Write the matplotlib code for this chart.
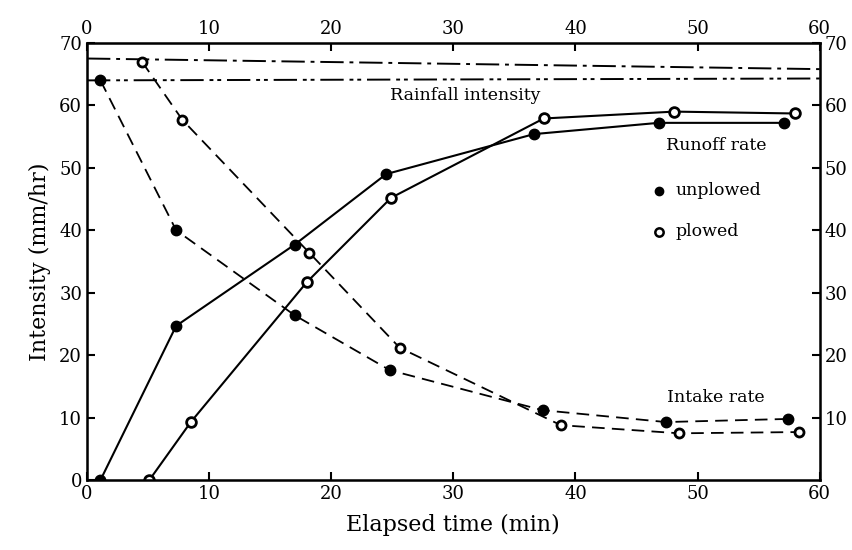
import matplotlib.pyplot as plt

# runoff rate (solid lines)
runoff_unplowed_t = [1.1, 7.3, 17.0, 24.5, 36.6, 46.8, 57.1]
runoff_unplowed = [0.0, 24.7, 37.7, 49.0, 55.4, 57.2, 57.2]
runoff_plowed_t = [5.1, 8.5, 18.0, 24.9, 37.4, 48.1, 58.0]
runoff_plowed = [0.0, 9.3, 31.7, 45.2, 57.9, 59.0, 58.7]

# intake rate (dashed lines)
intake_unplowed_t = [1.1, 7.3, 17.0, 24.8, 37.3, 47.4, 57.4]
intake_unplowed = [64.0, 40.0, 26.4, 17.6, 11.2, 9.3, 9.8]
intake_plowed_t = [4.5, 7.8, 18.2, 25.6, 38.8, 48.5, 58.3]
intake_plowed = [67.0, 57.7, 36.4, 21.2, 8.8, 7.5, 7.7]

# rainfall intensity
rain_t = [0, 60]
rain_plowed = [67.5, 65.8]
rain_unplowed = [64.0, 64.3]

x_ticks = [0, 10, 20, 30, 40, 50, 60]
y_ticks = [0, 10, 20, 30, 40, 50, 60, 70]
y_ticks_right = [10, 20, 30, 40, 50, 60, 70]

plt.rcParams['font.family'] = ['DejaVu Serif']

fig = plt.figure(figsize=(8.53, 5.5), dpi=100)
ax = fig.add_axes([0.102, 0.127, 0.859, 0.795])

ax.plot(rain_t, rain_plowed, color='black', lw=1.4, dashes=(12, 3, 2, 3))
ax.plot(rain_t, rain_unplowed, color='black', lw=1.4, dashes=(12, 3, 2, 2, 2, 3))

ax.plot(runoff_unplowed_t, runoff_unplowed, color='black', lw=1.5,
        marker='o', ms=7.5, mfc='black', mec='black')
ax.plot(runoff_plowed_t, runoff_plowed, color='black', lw=1.5,
        marker='o', ms=7, mfc='white', mec='black', mew=2)
ax.plot(intake_unplowed_t, intake_unplowed, color='black', lw=1.3,
        dashes=(7, 4), marker='o', ms=7.5, mfc='black', mec='black')
ax.plot(intake_plowed_t, intake_plowed, color='black', lw=1.3,
        dashes=(7, 4), marker='o', ms=6.5, mfc='white', mec='black', mew=2)

ax.set_xlim(0, 60)
ax.set_ylim(0, 70)
ax.set_xticks(x_ticks)
ax.set_yticks(y_ticks)
ax.tick_params(direction='in', length=6, width=1.5, labelsize=13,
               top=True, right=True, labeltop=True, labelright=False)
for s in ax.spines.values():
    s.set_linewidth(1.8)

ax2 = ax.twinx()
ax2.set_ylim(0, 70)
ax2.set_yticks(y_ticks_right)
ax2.tick_params(direction='in', length=6, width=1.5, labelsize=13)

ax.set_xlabel('Elapsed time (min)', fontsize=16, labelpad=8)
ax.set_ylabel('Intensity (mm/hr)', fontsize=16, labelpad=6)

ax.text(31, 61.5, 'Rainfall intensity', fontsize=12.5, ha='center', va='center')
ax.text(51.5, 53.5, 'Runoff rate', fontsize=12.5, ha='center', va='center')
ax.plot([46.8], [46.3], 'o', color='black', ms=6)
ax.text(48.2, 46.3, 'unplowed', fontsize=12.5, va='center')
ax.plot([46.8], [39.8], 'o', mfc='white', mec='black', mew=1.8, ms=6)
ax.text(48.2, 39.8, 'plowed', fontsize=12.5, va='center')
ax.text(51.5, 13.3, 'Intake rate', fontsize=12.5, ha='center', va='center')

fig.savefig('out.png', dpi=100)
